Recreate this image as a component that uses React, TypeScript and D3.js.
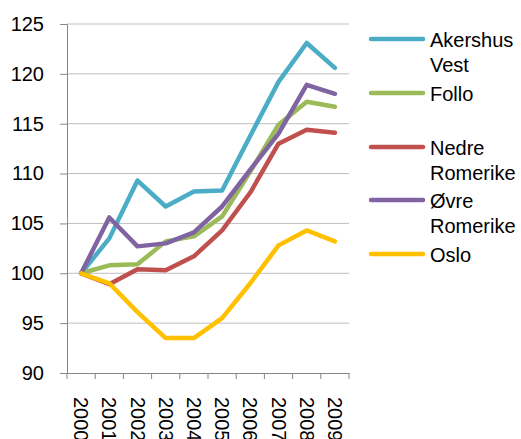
import React, { useEffect, useRef } from "react";
import * as d3 from "d3";

const years = ["2000", "2001", "2002", "2003", "2004", "2005", "2006", "2007", "2008", "2009"];
const akershusVest = [100, 103.5, 109.3, 106.7, 108.2, 108.3, 113.8, 119.2, 123.1, 120.6];
const follo = [100, 100.8, 100.9, 103.2, 103.7, 105.7, 110.2, 114.9, 117.2, 116.7];
const nedreRomerike = [100, 98.9, 100.4, 100.3, 101.7, 104.3, 108.1, 113.0, 114.4, 114.1];
const ovreRomerike = [100, 105.6, 102.7, 103.0, 104.1, 106.7, 110.4, 114.0, 118.9, 118.0];
const oslo = [100, 99.0, 96.1, 93.5, 93.5, 95.5, 99.0, 102.8, 104.3, 103.2];
const yTicks = [90, 95, 100, 105, 110, 115, 120, 125];

const series = [
  { name: ["Akershus", "Vest"], values: akershusVest, color: "#4BACC6" },
  { name: ["Follo"], values: follo, color: "#9BBB59" },
  { name: ["Nedre", "Romerike"], values: nedreRomerike, color: "#C0504D" },
  { name: ["Øvre", "Romerike"], values: ovreRomerike, color: "#8064A2" },
  { name: ["Oslo"], values: oslo, color: "#FFC000" },
];

const legendY = [39, 93, 147, 200, 254];

export default function App() {
  const ref = useRef<SVGSVGElement>(null);

  useEffect(() => {
    const svg = d3.select(ref.current);
    svg.selectAll("*").remove();

    const left = 67, right = 349, top = 24, bottom = 373;
    const font = "'Liberation Sans', Arial, sans-serif";
    const fs = 20;

    const x = d3.scaleBand().domain(years).range([left, right]);
    const y = d3.scaleLinear().domain([90, 125]).range([bottom, top]);

    // gridlines
    svg.append("g")
      .selectAll("line")
      .data(yTicks.filter((t) => t !== 90))
      .enter()
      .append("line")
      .attr("x1", left)
      .attr("x2", right)
      .attr("y1", (d) => y(d))
      .attr("y2", (d) => y(d))
      .attr("stroke", "#BFBFBF")
      .attr("stroke-width", 1);

    // y axis
    const yAxis = svg.append("g")
      .attr("transform", `translate(${left},0)`)
      .call(d3.axisLeft(y).tickValues(yTicks).tickSize(7).tickPadding(16));
    yAxis.select(".domain").attr("stroke", "#868686");
    yAxis.selectAll(".tick line").attr("stroke", "#868686");
    yAxis.selectAll(".tick text")
      .attr("font-family", font)
      .attr("font-size", fs)
      .attr("fill", "#000");

    // x axis
    const xAxis = svg.append("g")
      .attr("transform", `translate(0,${bottom})`)
      .call(d3.axisBottom(x).tickSize(0).tickFormat(() => ""));
    xAxis.select(".domain").attr("stroke", "#868686");
    xAxis.selectAll(".tick").remove();

    const bounds = [...years.map((d) => x(d) as number), right];
    svg.append("g")
      .selectAll("line")
      .data(bounds)
      .enter()
      .append("line")
      .attr("x1", (d) => d)
      .attr("x2", (d) => d)
      .attr("y1", bottom)
      .attr("y2", bottom + 6)
      .attr("stroke", "#868686");

    svg.append("g")
      .selectAll("text")
      .data(years)
      .enter()
      .append("text")
      .attr("transform", (d) => `translate(${(x(d) as number) + x.bandwidth() / 2},${bottom + 24}) rotate(90)`)
      .attr("dy", "0.35em")
      .attr("font-family", font)
      .attr("font-size", fs)
      .text((d) => d);

    const line = d3.line<number>()
      .x((_, i) => (x(years[i]) as number) + x.bandwidth() / 2)
      .y((d) => y(d));

    series.forEach((s) => {
      svg.append("path")
        .datum(s.values)
        .attr("d", line)
        .attr("fill", "none")
        .attr("stroke", s.color)
        .attr("stroke-width", 4.5)
        .attr("stroke-linejoin", "round")
        .attr("stroke-linecap", "round");
    });

    // legend
    series.forEach((s, i) => {
      const ly = legendY[i];
      svg.append("line")
        .attr("x1", 371)
        .attr("x2", 423)
        .attr("y1", ly)
        .attr("y2", ly)
        .attr("stroke", s.color)
        .attr("stroke-width", 4.5)
        .attr("stroke-linecap", "round");
      const t = svg.append("text")
        .attr("x", 430)
        .attr("y", ly + 7.5)
        .attr("font-family", font)
        .attr("font-size", fs);
      s.name.forEach((n, j) => {
        t.append("tspan").attr("x", 430).attr("dy", j === 0 ? 0 : 25).text(n);
      });
    });
  }, []);

  return (
    <svg
      ref={ref}
      width={521}
      height={439}
      style={{ position: "absolute", left: 0, top: 0, background: "#fff" }}
    />
  );
}
